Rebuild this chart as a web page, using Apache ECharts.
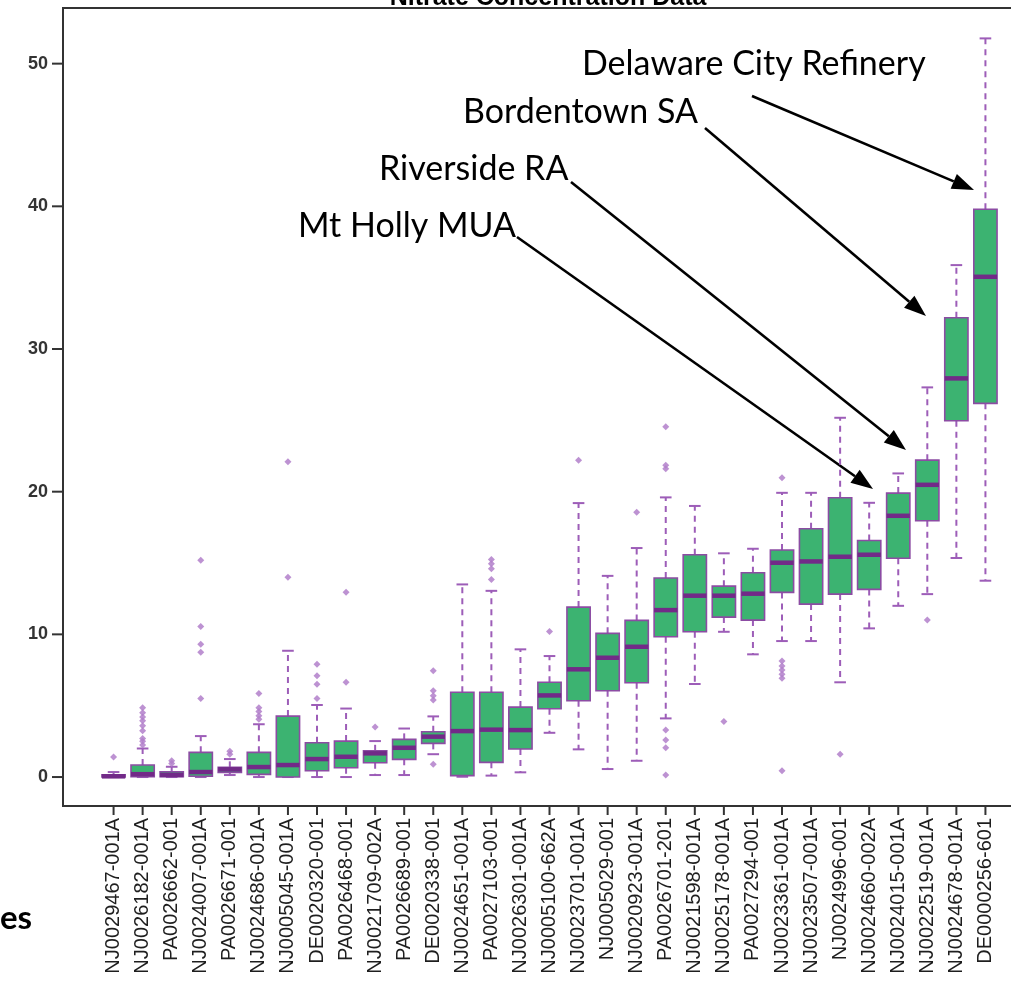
<!DOCTYPE html>
<html>
<head>
<meta charset="utf-8">
<title>Nitrate Concentration Data</title>
<script src="https://cdn.jsdelivr.net/npm/echarts@6/dist/echarts.min.js"></script>
<style>
  html, body { margin: 0; padding: 0; background: #ffffff; }
  #chart { width: 1011px; height: 989px; }
</style>
</head>
<body>
<div id="chart"></div>
<script>
// Discharge permit IDs, ordered by median nitrate concentration
const categories = [
  'NJ0029467-001A', 'NJ0026182-001A', 'PA0026662-001', 'NJ0024007-001A',
  'PA0026671-001', 'NJ0024686-001A', 'NJ0005045-001A', 'DE0020320-001',
  'PA0026468-001', 'NJ0021709-002A', 'PA0026689-001', 'DE0020338-001',
  'NJ0024651-001A', 'PA0027103-001', 'NJ0026301-001A', 'NJ0005100-662A',
  'NJ0023701-001A', 'NJ0005029-001', 'NJ0020923-001A', 'PA0026701-201',
  'NJ0021598-001A', 'NJ0025178-001A', 'PA0027294-001', 'NJ0023361-001A',
  'NJ0023507-001A', 'NJ0024996-001', 'NJ0024660-002A', 'NJ0024015-001A',
  'NJ0022519-001A', 'NJ0024678-001A', 'DE0000256-601'
];

// Five-number summaries (mg/L)
const whiskerLow  = [0, 0, 0, 0, 0.14, 0, 0, 0, 0, 0.14, 0.14, 1.6, 0.02, 0.1, 0.33, 3.1,
                     1.94, 0.56, 1.14, 4.11, 6.52, 10.18, 8.6, 9.53, 9.53, 6.64, 10.42, 12.0, 12.82, 15.35, 13.76];
const quartile1   = [0, 0.02, 0.02, 0.05, 0.33, 0.19, 0, 0.44, 0.65, 1.0, 1.24, 2.36, 0.1, 1.03, 1.96, 4.79,
                     5.35, 6.05, 6.61, 9.83, 10.18, 11.21, 11.0, 12.94, 12.12, 12.82, 13.15, 15.33, 17.96, 24.97, 26.19];
const medians     = [0.05, 0.2, 0.15, 0.35, 0.54, 0.7, 0.84, 1.26, 1.42, 1.66, 2.05, 2.83, 3.22, 3.32, 3.29, 5.72,
                     7.55, 8.36, 9.13, 11.7, 12.71, 12.71, 12.85, 15.02, 15.11, 15.44, 15.58, 18.31, 20.48, 27.94, 35.06];
const quartile3   = [0.15, 0.84, 0.37, 1.73, 0.68, 1.73, 4.27, 2.4, 2.52, 1.84, 2.64, 3.17, 5.94, 5.94, 4.9, 6.64,
                     11.91, 10.07, 10.98, 13.95, 15.58, 13.38, 14.32, 15.91, 17.4, 19.57, 16.58, 19.9, 22.21, 32.19, 39.8];
const whiskerHigh = [0.35, 2.0, 0.72, 2.87, 1.26, 3.7, 8.85, 5.05, 4.8, 2.52, 3.4, 4.25, 13.5, 13.05, 8.95, 8.48,
                     19.2, 14.1, 16.05, 19.6, 19.0, 15.68, 16.0, 19.92, 19.92, 25.18, 19.22, 21.28, 27.31, 35.88, 51.77];

// Points beyond the whiskers, per permit
const outliers = [
  [1.4],
  [4.85, 4.5, 4.2, 3.95, 3.6, 3.25, 2.7, 2.5, 2.25],
  [1.15, 0.95],
  [15.2, 10.55, 9.3, 8.75, 5.5],
  [1.8, 1.6],
  [5.85, 4.85, 4.6, 4.3, 4.05],
  [22.1, 14.0],
  [7.9, 7.1, 6.5, 5.5],
  [12.95, 6.65],
  [3.5],
  [],
  [7.45, 6.05, 5.7, 5.4, 0.9],
  [],
  [15.25, 14.95, 14.6, 13.85],
  [],
  [10.2],
  [22.2],
  [],
  [18.55],
  [24.55, 21.85, 21.6, 3.3, 2.6, 2.05, 0.15],
  [],
  [3.9],
  [],
  [20.97, 8.13, 7.78, 7.5, 7.2, 6.92, 0.44],
  [],
  [1.6],
  [],
  [],
  [11.0],
  [],
  []
];

const yTickValues = [0, 10, 20, 30, 40, 50];

// Facilities called out on the chart
const calloutNames = ['Delaware City Refinery', 'Bordentown SA', 'Riverside RA', 'Mt Holly MUA'];

const positions = categories.map((_, i) => i + 1);
const boxData = positions.map((x, i) =>
  [x, whiskerLow[i], quartile1[i], medians[i], quartile3[i], whiskerHigh[i]]);
const outlierData = [];
outliers.forEach((list, i) => list.forEach(v => outlierData.push([i + 1, v])));

// Tick marks: [axis value, 0 = x axis / 1 = y axis]
const tickData = positions.map(p => [p, 0]).concat(yTickValues.map(v => [v, 1]));

const GREEN = '#3cb371';
const BORDER = '#8c4ca3';
const MEDIAN = '#722a88';
const WHISKER = '#9d5db8';
const FRAME = '#333333';
const X_TICK_LEN = 9;
const Y_TICK_LEN = 11;

function renderBox(params, api) {
  const x = api.value(0);
  const lo = api.coord([x, api.value(1)]);
  const q1 = api.coord([x, api.value(2)]);
  const med = api.coord([x, api.value(3)]);
  const q3 = api.coord([x, api.value(4)]);
  const hi = api.coord([x, api.value(5)]);
  const cx = lo[0];
  const half = api.size([0.8, 0])[0] / 2;
  const capHalf = api.size([0.4, 0])[0] / 2;
  const dash = { stroke: WHISKER, lineWidth: 2, lineDash: [6, 5] };
  const solid = { stroke: WHISKER, lineWidth: 2 };
  return {
    type: 'group',
    children: [
      { type: 'line', shape: { x1: cx, y1: q3[1], x2: cx, y2: hi[1] }, style: dash },
      { type: 'line', shape: { x1: cx, y1: q1[1], x2: cx, y2: lo[1] }, style: dash },
      { type: 'line', shape: { x1: cx - capHalf, y1: hi[1], x2: cx + capHalf, y2: hi[1] }, style: solid },
      { type: 'line', shape: { x1: cx - capHalf, y1: lo[1], x2: cx + capHalf, y2: lo[1] }, style: solid },
      { type: 'rect', shape: { x: cx - half, y: q3[1], width: half * 2, height: q1[1] - q3[1] },
        style: { fill: GREEN, stroke: BORDER, lineWidth: 1.6 } },
      { type: 'line', shape: { x1: cx - half, y1: med[1], x2: cx + half, y2: med[1] },
        style: { stroke: MEDIAN, lineWidth: 4.5 } }
    ]
  };
}

// Outward tick marks on the bottom and left edges of the plot frame
function renderTick(params, api) {
  const v = api.value(0);
  const axis = api.value(1);
  const cs = params.coordSys;
  const style = { stroke: FRAME, lineWidth: 2 };
  if (axis === 0) {
    const px = api.coord([v, 0])[0];
    const bottom = cs.y + cs.height;
    return { type: 'line', shape: { x1: px, y1: bottom, x2: px, y2: bottom + X_TICK_LEN }, style };
  }
  const py = api.coord([1, v])[1];
  return { type: 'line', shape: { x1: cs.x - Y_TICK_LEN, y1: py, x2: cs.x, y2: py }, style };
}

// Callout text and arrow geometry (pixels)
const calloutLayout = [
  { x: 582, y: 64,  from: [752, 96],  to: [974, 190] },
  { x: 463, y: 112, from: [705, 128], to: [926, 316] },
  { x: 379, y: 169, from: [571, 182], to: [906, 450] },
  { x: 298, y: 226, from: [517, 237], to: [873, 489] }
];

function arrow(from, to) {
  const dx = to[0] - from[0], dy = to[1] - from[1];
  const len = Math.hypot(dx, dy);
  const ux = dx / len, uy = dy / len;
  const headLen = 22, headHalf = 8;
  const bx = to[0] - ux * headLen, by = to[1] - uy * headLen;
  return [
    { type: 'line', shape: { x1: from[0], y1: from[1], x2: bx, y2: by },
      style: { stroke: '#000', lineWidth: 2.6 } },
    { type: 'polygon', shape: { points: [
        [to[0], to[1]],
        [bx - uy * headHalf, by + ux * headHalf],
        [bx + uy * headHalf, by - ux * headHalf]
      ] }, style: { fill: '#000' } }
  ];
}

const graphics = [];
calloutNames.forEach((name, i) => {
  const c = calloutLayout[i];
  graphics.push({
    type: 'text', x: c.x, y: c.y,
    style: { text: name, fill: '#000', font: '34px Lato', textVerticalAlign: 'middle' }
  });
  arrow(c.from, c.to).forEach(g => graphics.push(g));
});
graphics.push({
  type: 'text', x: 548, y: 11,
  style: { text: 'Nitrate Concentration Data', fill: '#000',
           font: 'bold 25px "Liberation Sans"', textAlign: 'center', textVerticalAlign: 'bottom' }
});
graphics.push({
  type: 'text', x: 0, y: 918,
  style: { text: 'es', fill: '#000', font: 'bold 33px Lato', textVerticalAlign: 'middle' }
});

const chart = echarts.init(document.getElementById('chart'), null, { renderer: 'canvas' });
chart.setOption({
  animation: false,
  backgroundColor: '#ffffff',
  grid: {
    left: 63, top: 8, width: 973, height: 798,
    show: true, borderColor: FRAME, borderWidth: 2,
    outerBoundsMode: 'none'
  },
  xAxis: {
    type: 'value', min: -0.74, max: 32.74,
    splitLine: { show: false },
    axisLine: { show: true, onZero: false, lineStyle: { color: FRAME, width: 2 } },
    axisTick: { show: false },
    axisLabel: {
      customValues: positions, rotate: 90, margin: 12,
      formatter: v => categories[Math.round(v) - 1] || '',
      fontFamily: '"Liberation Sans", Arial', fontSize: 20, color: '#1e1e1e'
    }
  },
  yAxis: {
    type: 'value', min: -2.03, max: 53.9,
    splitLine: { show: false },
    axisLine: { show: true, onZero: false, lineStyle: { color: FRAME, width: 2 } },
    axisTick: { show: false },
    axisLabel: {
      customValues: yTickValues, margin: 15,
      fontFamily: '"Liberation Sans", Arial', fontSize: 18, fontWeight: 'bold', color: '#333'
    }
  },
  series: [
    {
      type: 'custom', name: 'box', renderItem: renderBox, data: boxData,
      encode: { x: 0, y: [1, 2, 3, 4, 5] }, clip: false
    },
    {
      type: 'scatter', name: 'outliers', data: outlierData,
      symbol: 'diamond', symbolSize: 7,
      itemStyle: { color: '#b27fca', opacity: 0.85 }
    },
    {
      type: 'custom', name: 'ticks', renderItem: renderTick, data: tickData,
      encode: { x: 0 }, clip: false, silent: true, z: 5
    }
  ],
  graphic: graphics
});
</script>
</body>
</html>
